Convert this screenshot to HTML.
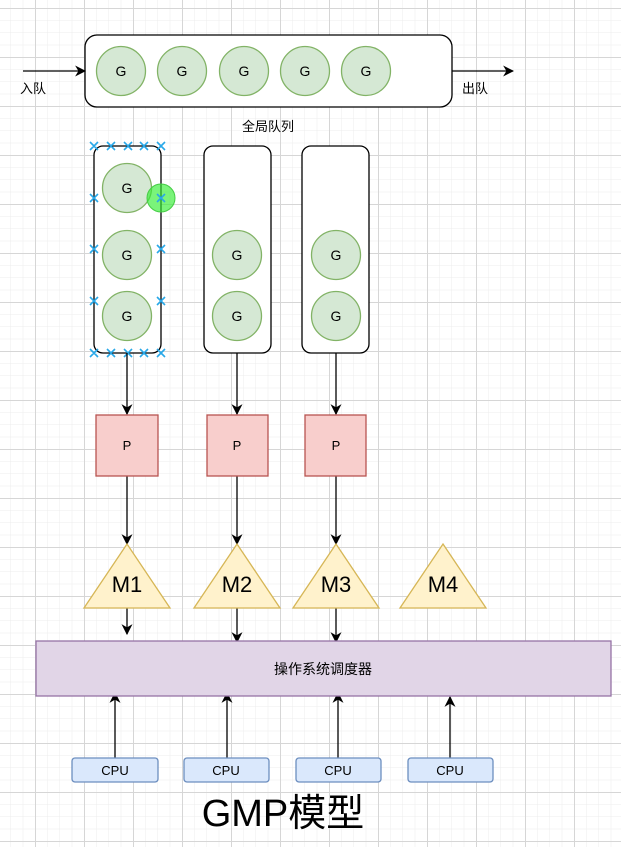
<!DOCTYPE html>
<html><head><meta charset="utf-8"><style>
html,body{margin:0;padding:0;background:#fff;}
body{width:621px;height:847px;overflow:hidden;}
</style></head><body>
<svg width="621" height="847" xmlns="http://www.w3.org/2000/svg" style="display:block">
<defs>
<pattern id="minor" width="12.25" height="12.25" patternUnits="userSpaceOnUse" x="35" y="8">
<path d="M0 0H12.25M0 0V12.25" stroke="#ececec" stroke-width="1" fill="none"/>
</pattern>
<pattern id="major" width="49" height="49" patternUnits="userSpaceOnUse" x="35" y="8">
<path d="M0 0.5H49M0.5 0V49" stroke="#d6d6d6" stroke-width="1" fill="none"/>
</pattern>
<marker id="ah" viewBox="0 0 10 10" refX="9" refY="5" markerWidth="11" markerHeight="11" orient="auto" markerUnits="userSpaceOnUse">
<path d="M0 0L10 5L0 10L3 5Z" fill="#000"/>
</marker>
<marker id="ah2" viewBox="0 0 10 10" refX="9" refY="5" markerWidth="11" markerHeight="11" orient="auto" markerUnits="userSpaceOnUse">
<path d="M0 0L10 5L0 10L3 5Z" fill="#000"/>
</marker>
</defs>
<rect width="621" height="847" fill="url(#minor)"/>
<rect width="621" height="847" fill="url(#major)"/>

<g font-family="Liberation Sans, Noto Sans CJK SC, sans-serif" fill="#000">
<rect x="85" y="35" width="367" height="72" rx="12" fill="#fff" stroke="#000" stroke-width="1.3"/>
<line x1="23" y1="71" x2="85" y2="71" stroke="#000" stroke-width="1.3" marker-end="url(#ah2)"/>
<line x1="452" y1="71" x2="513" y2="71" stroke="#000" stroke-width="1.3" marker-end="url(#ah2)"/>
<text x="20" y="93" font-size="13">入队</text>
<text x="462" y="93" font-size="13">出队</text>
<text x="268" y="131" font-size="13" text-anchor="middle">全局队列</text>
<g fill="#d5e8d4" stroke="#82b366" stroke-width="1.3">
<circle cx="121" cy="71" r="24.5"/><circle cx="182" cy="71" r="24.5"/><circle cx="244" cy="71" r="24.5"/><circle cx="305" cy="71" r="24.5"/><circle cx="366" cy="71" r="24.5"/>
</g>
<g font-size="14" text-anchor="middle">
<text x="121" y="76">G</text><text x="182" y="76">G</text><text x="244" y="76">G</text><text x="305" y="76">G</text><text x="366" y="76">G</text>
</g>

<g fill="#fff" stroke="#000" stroke-width="1.3">
<rect x="94" y="146" width="67" height="207" rx="9"/>
<rect x="204" y="146" width="67" height="207" rx="9"/>
<rect x="302" y="146" width="67" height="207" rx="9"/>
</g>
<g fill="#d5e8d4" stroke="#82b366" stroke-width="1.3">
<circle cx="127" cy="188" r="24.5"/><circle cx="127" cy="255" r="24.5"/><circle cx="127" cy="316" r="24.5"/>
<circle cx="237" cy="255" r="24.5"/><circle cx="237" cy="316" r="24.5"/>
<circle cx="336" cy="255" r="24.5"/><circle cx="336" cy="316" r="24.5"/>
</g>
<g font-size="14" text-anchor="middle">
<text x="127" y="193">G</text><text x="127" y="260">G</text><text x="127" y="321">G</text>
<text x="237" y="260">G</text><text x="237" y="321">G</text>
<text x="336" y="260">G</text><text x="336" y="321">G</text>
</g>
<circle cx="161" cy="198" r="14" fill="#33ee33" fill-opacity="0.65" stroke="#44cc44"/>
<g stroke="#29a8e8" stroke-width="1.6">
<path d="M90 142l8 8M98 142l-8 8 M107 142l8 8M115 142l-8 8 M124 142l8 8M132 142l-8 8 M140 142l8 8M148 142l-8 8 M157 142l8 8M165 142l-8 8"/>
<path d="M90 349l8 8M98 349l-8 8 M107 349l8 8M115 349l-8 8 M124 349l8 8M132 349l-8 8 M140 349l8 8M148 349l-8 8 M157 349l8 8M165 349l-8 8"/>
<path d="M90 194l8 8M98 194l-8 8 M90 245l8 8M98 245l-8 8 M90 297l8 8M98 297l-8 8"/>
<path d="M157 194l8 8M165 194l-8 8 M157 245l8 8M165 245l-8 8 M157 297l8 8M165 297l-8 8"/>
</g>

<g stroke="#000" stroke-width="1.3" marker-end="url(#ah)">
<line x1="127" y1="353" x2="127" y2="414"/>
<line x1="237" y1="353" x2="237" y2="414"/>
<line x1="336" y1="353" x2="336" y2="414"/>
<line x1="127" y1="476" x2="127" y2="544"/>
<line x1="237" y1="476" x2="237" y2="544"/>
<line x1="336" y1="476" x2="336" y2="544"/>
<line x1="127" y1="608" x2="127" y2="634"/>
<line x1="237" y1="608" x2="237" y2="642"/>
<line x1="336" y1="608" x2="336" y2="642"/>
<line x1="115" y1="758" x2="115" y2="693"/>
<line x1="227" y1="758" x2="227" y2="693"/>
<line x1="338" y1="758" x2="338" y2="693"/>
<line x1="450" y1="758" x2="450" y2="697"/>
</g>

<g fill="#f8cecc" stroke="#b85450" stroke-width="1.3">
<rect x="96" y="415" width="62" height="61"/>
<rect x="207" y="415" width="61" height="61"/>
<rect x="305" y="415" width="61" height="61"/>
</g>
<g font-size="13" text-anchor="middle">
<text x="127" y="450">P</text><text x="237" y="450">P</text><text x="336" y="450">P</text>
</g>

<g fill="#fff2cc" stroke="#d6b656" stroke-width="1.3">
<polygon points="127,544 170,608 84,608"/>
<polygon points="237,544 280,608 194,608"/>
<polygon points="336,544 379,608 293,608"/>
<polygon points="443,544 486,608 400,608"/>
</g>
<g font-size="22" text-anchor="middle">
<text x="127" y="592">M1</text><text x="237" y="592">M2</text><text x="336" y="592">M3</text><text x="443" y="592">M4</text>
</g>

<rect x="36" y="641" width="575" height="55" fill="#e1d5e7" stroke="#9673a6" stroke-width="1.3"/>
<text x="323" y="674" font-size="14" text-anchor="middle">操作系统调度器</text>

<g fill="#dae8fc" stroke="#6c8ebf" stroke-width="1.3">
<rect x="72" y="758" width="86" height="24" rx="3"/>
<rect x="184" y="758" width="85" height="24" rx="3"/>
<rect x="296" y="758" width="85" height="24" rx="3"/>
<rect x="408" y="758" width="85" height="24" rx="3"/>
</g>
<g font-size="13" text-anchor="middle">
<text x="115" y="775">CPU</text><text x="226" y="775">CPU</text><text x="338" y="775">CPU</text><text x="450" y="775">CPU</text>
</g>

<text x="283" y="826" font-size="38" text-anchor="middle">GMP模型</text>
</g>
</svg>
</body></html>
